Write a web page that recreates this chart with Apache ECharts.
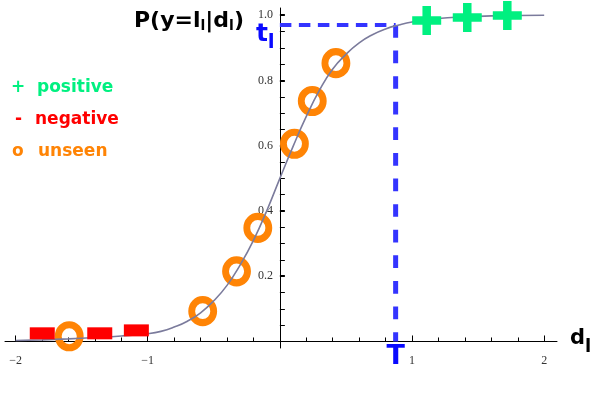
<!DOCTYPE html>
<html><head><meta charset="utf-8">
<script src="https://cdn.jsdelivr.net/npm/echarts@6/dist/echarts.min.js"></script>
<style>html,body{margin:0;padding:0;background:#fff}#c{width:602px;height:398px}</style>
</head><body><div id="c"></div>
<script>
// ---- data ----
const curveX = [-2.0, -1.8, -1.6, -1.4, -1.2, -1.0, -0.9, -0.8, -0.7, -0.6, -0.5, -0.4, -0.3, -0.2, -0.1, 0.0, 0.1, 0.2, 0.3, 0.4, 0.5, 0.6, 0.7, 0.8, 0.9, 1.0, 1.2, 1.4, 1.6, 1.8, 2.0];
const curveY = [0.003, 0.005, 0.008, 0.012, 0.017, 0.024, 0.031, 0.044, 0.062, 0.088, 0.125, 0.172, 0.235, 0.31, 0.40, 0.50, 0.598, 0.69, 0.77, 0.835, 0.88, 0.915, 0.94, 0.958, 0.97, 0.979, 0.99, 0.995, 0.998, 0.999, 1.0];
const positiveX = [1.111, 1.418, 1.721];
const positiveY = [0.984, 0.993, 0.999];
const negativeX = [-1.798, -1.363, -1.086];
const negativeY = [0.025, 0.025, 0.034];
const unseenX = [-1.594, -0.584, -0.328, -0.167, 0.110, 0.245, 0.424];
const unseenY = [0.016, 0.093, 0.215, 0.348, 0.606, 0.737, 0.853];
const thresholdT = 0.876;
const thresholdTl = 0.970;
const xMajorTicks = [-2, -1, 1, 2];
const xMinorTicks = [-1.8, -1.6, -1.4, -1.2, -0.8, -0.6, -0.4, -0.2, 0.2, 0.4, 0.6, 0.8, 1.2, 1.4, 1.6, 1.8];
const yMajorTicks = [0.2, 0.4, 0.6, 0.8, 1.0];
const yMinorTicks = [0.05, 0.1, 0.15, 0.25, 0.3, 0.35, 0.45, 0.5, 0.55, 0.65, 0.7, 0.75, 0.85, 0.9, 0.95];
const legendLabels = ['positive', 'negative', 'unseen'];
const legendSymbols = ['+', '-', 'o'];

const GREEN = '#00f080', RED = '#ff0000', ORANGE = '#ff8405', BLUE = '#3434ff', TBLUE = '#0a0aff';
const XMIN = -2.08, XMAX = 2.097, YMIN = -0.02, YMAX = 1.022;
const W = 602, GL = 5, GR = 45, GT = 8, GB = 50;
// pixel column of x = 0 inside the data grid (where the y axis sits)
const yAxisLeft = GL + (0 - XMIN) / (XMAX - XMIN) * (W - GL - GR);

const chart = echarts.init(document.getElementById('c'), null, {renderer: 'canvas'});
const labelStyle = {color: '#333', fontFamily: 'Liberation Serif', fontSize: 12};

function xAxisDef(major) {
  return {
    gridIndex: 0, type: 'value', min: XMIN, max: XMAX, position: 'bottom',
    axisLine: {show: major, onZero: true, onZeroAxisIndex: 0, lineStyle: {color: '#000', width: 1}},
    axisTick: {show: true, inside: true, length: major ? 6 : 4, customValues: major ? xMajorTicks : xMinorTicks,
      lineStyle: {color: '#000', width: 1}},
    axisLabel: major ? Object.assign({show: true, margin: 7, customValues: xMajorTicks,
      formatter: v => (v < 0 ? '\u2212' + Math.abs(v) : String(v))}, labelStyle) : {show: false},
    splitLine: {show: false}
  };
}
function yAxisDef(major) {
  return {
    gridIndex: 1, type: 'value', min: YMIN, max: YMAX, position: 'left',
    axisLine: {show: major, onZero: false, lineStyle: {color: '#000', width: 1}},
    axisTick: {show: true, inside: true, length: 5, customValues: major ? yMajorTicks : yMinorTicks,
      lineStyle: {color: '#000', width: major ? 2 : 1}},
    axisLabel: major ? Object.assign({show: true, margin: 7, customValues: yMajorTicks,
      formatter: v => v.toFixed(1)}, labelStyle) : {show: false},
    splitLine: {show: false}
  };
}

const plusPath = 'path://M10.25,0H18.75V10.25H29V18.75H18.75V29H10.25V18.75H0V10.25H10.25Z';

chart.setOption({
  animation: false,
  backgroundColor: '#fff',
  grid: [
    {left: GL, right: GR, top: GT, bottom: GB, containLabel: false, outerBoundsMode: 'none'},
    {left: yAxisLeft, width: 50, top: GT, bottom: GB, containLabel: false, outerBoundsMode: 'none'}
  ],
  xAxis: [
    xAxisDef(true), xAxisDef(false),
    {gridIndex: 1, type: 'value', min: 0, max: 1, show: false}
  ],
  yAxis: [
    {gridIndex: 0, type: 'value', min: YMIN, max: YMAX, show: false, axisLine: {onZero: false}},
    yAxisDef(true), yAxisDef(false)
  ],
  series: [
    {type: 'line', name: 'hT', data: [[0, thresholdTl], [thresholdT, thresholdTl]], showSymbol: false, z: 2,
      lineStyle: {color: BLUE, width: 4, type: [11.5, 7.5]}, silent: true},
    {type: 'line', name: 'vT', data: [[thresholdT, thresholdTl], [thresholdT, 0]], showSymbol: false, z: 2,
      lineStyle: {color: BLUE, width: 5, type: [12.7, 12.9]}, silent: true},
    {type: 'scatter', name: 'unseen', data: unseenX.map((x, i) => [x, unseenY[i]]), symbol: 'circle', symbolSize: [22, 23], z: 3,
      itemStyle: {color: 'rgba(0,0,0,0)', borderColor: ORANGE, borderWidth: 7, opacity: 1}},
    {type: 'line', name: 'curve', data: curveX.map((x, i) => [x, curveY[i]]), showSymbol: false, smooth: true, z: 4,
      lineStyle: {color: '#7b7b9c', width: 1.6}, silent: true},
    {type: 'scatter', name: 'negative', data: negativeX.map((x, i) => [x, negativeY[i]]), symbol: 'rect', symbolSize: [25, 12], z: 5,
      itemStyle: {color: RED, opacity: 1}},
    {type: 'scatter', name: 'positive', data: positiveX.map((x, i) => [x, positiveY[i]]), symbol: plusPath, symbolSize: [29, 29], z: 5,
      itemStyle: {color: GREEN, opacity: 1}}
  ]
});

// ---- text annotations ----
const ctx = document.createElement('canvas').getContext('2d');
function textW(t, size) { ctx.font = 'bold ' + size + 'px "DejaVu Sans"'; return ctx.measureText(t).width; }
function txt(t, x, cy, size, color, align) {
  return {type: 'text', z: 10, silent: true, x: x, y: cy,
    style: {text: t, fill: color, font: 'bold ' + size + 'px "DejaVu Sans"', align: align || 'left', verticalAlign: 'middle'}};
}
function seqT(parts, x0, baseline, color) {
  const out = []; let x = x0;
  parts.forEach(p => {
    out.push(txt(p.t, x, baseline + (p.dy || 0) - 0.3 * p.s, p.s, color));
    x += textW(p.t, p.s);
  });
  return out;
}

const pT = chart.convertToPixel({gridIndex: 0}, [thresholdT, 0]);
const pt = chart.convertToPixel({gridIndex: 0}, [0, thresholdTl]);
const g = [];
// title
g.push(...seqT([{t: 'P(y=l', s: 22}, {t: 'l', s: 14, dy: 3}, {t: '|d', s: 22}, {t: 'l', s: 14, dy: 3}, {t: ')', s: 22}], 134, 28, '#000'));
// x-axis name
g.push(...seqT([{t: 'd', s: 21}, {t: 'l', s: 18, dy: 8}], 570, 345, '#000'));
// threshold labels
g.push(txt('T', pT[0], pT[1] + 24 - 0.3 * 27, 27, TBLUE, 'center'));
g.push(...seqT([{t: 't', s: 25}, {t: 'l', s: 20, dy: 7}], pt[0] - 24, pt[1] + 17, TBLUE));
// legend
const legColors = [GREEN, RED, ORANGE];
const legY = [88, 120, 152];
const legTextX = [37, 35, 38];
const legSymX = [11, 15, 12];
legendLabels.forEach((l, i) => {
  g.push(txt(legendSymbols[i], legSymX[i], legY[i], 17, legColors[i]));
  g.push(txt(l, legTextX[i], legY[i], 17, legColors[i]));
});
chart.setOption({graphic: g});
</script>
</body></html>
